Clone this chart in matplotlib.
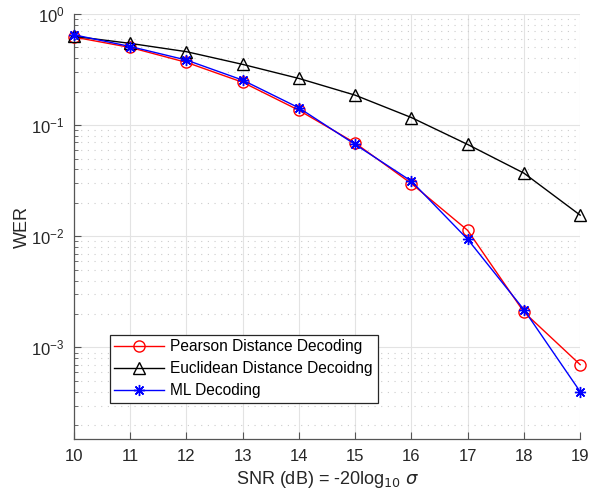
import matplotlib
matplotlib.use("Agg")
import matplotlib.pyplot as plt
import matplotlib.ticker as mticker

snr = [10, 11, 12, 13, 14, 15, 16, 17, 18, 19]
pearson = [0.62, 0.50, 0.367, 0.243, 0.136, 0.069, 0.0298, 0.0113, 0.00208, 0.00070]
euclid = [0.63, 0.544, 0.458, 0.352, 0.263, 0.186, 0.117, 0.067, 0.037, 0.0155]
ml = [0.65, 0.51, 0.385, 0.254, 0.143, 0.067, 0.0313, 0.0094, 0.00219, 0.00040]

plt.rcParams['font.family'] = ['Liberation Sans', 'DejaVu Sans']

fig = plt.figure(figsize=(5.92, 4.93), dpi=100)
ax = fig.add_axes([0.125, 0.1095, 0.855, 0.8621])

ax.semilogy(snr, pearson, color='red', marker='o', markersize=8, markerfacecolor='none',
            markeredgewidth=1.0, linewidth=1.0, label='Pearson Distance Decoding', zorder=3,
            clip_on=False)
ax.semilogy(snr, euclid, color='black', marker='^', markersize=9, markerfacecolor='none',
            markeredgewidth=1.0, linewidth=1.0, label='Euclidean Distance Decoidng', zorder=3,
            clip_on=False)
ax.semilogy(snr, ml, color='blue', marker=(8, 2, 0), markersize=8, markerfacecolor='blue',
            markeredgewidth=1.0, linewidth=1.0, label='ML Decoding', zorder=4,
            clip_on=False)

ax.set_xlim(10, 19)
ax.set_ylim(1.5e-4, 1)
ax.set_xticks(snr)
ax.yaxis.set_major_locator(mticker.LogLocator(base=10, numticks=10))
ax.yaxis.set_minor_locator(mticker.LogLocator(base=10, subs=range(2, 10), numticks=20))
ax.yaxis.set_minor_formatter(mticker.NullFormatter())

ax.grid(True, which='major', axis='both', color='#e3e3e3', linewidth=0.8, linestyle='-')
ax.grid(True, which='minor', axis='y', color='#cccccc', linewidth=0.8, linestyle=(0, (1, 5)))
ax.set_axisbelow(True)

for s in ['top', 'right']:
    ax.spines[s].set_visible(False)
for s in ['left', 'bottom']:
    ax.spines[s].set_color('#555555')
    ax.spines[s].set_linewidth(0.9)

ax.tick_params(axis='both', which='both', direction='in', colors='#555555', labelcolor='#262626',
               labelsize=12)
ax.tick_params(axis='both', which='major', length=5, pad=7)
ax.tick_params(axis='y', which='minor', length=3)
ax.tick_params(axis='x', which='both', top=False)
ax.tick_params(axis='y', which='both', right=False)

ax.set_xlabel(r'SNR (dB) = -20log$_{10}$ $\sigma$', fontsize=13, color='#262626', labelpad=4)
ax.set_ylabel('WER', fontsize=13, color='#262626', labelpad=0)

leg = ax.legend(loc='lower left', bbox_to_anchor=(0.0705, 0.085), fontsize=11.2,
                frameon=True, fancybox=False, edgecolor='#262626', framealpha=1,
                borderpad=0.3, labelspacing=0.45, handlelength=3.2, handletextpad=0.4,
                borderaxespad=0)
leg.get_frame().set_linewidth(0.9)

fig.savefig('out.png', dpi=100)
